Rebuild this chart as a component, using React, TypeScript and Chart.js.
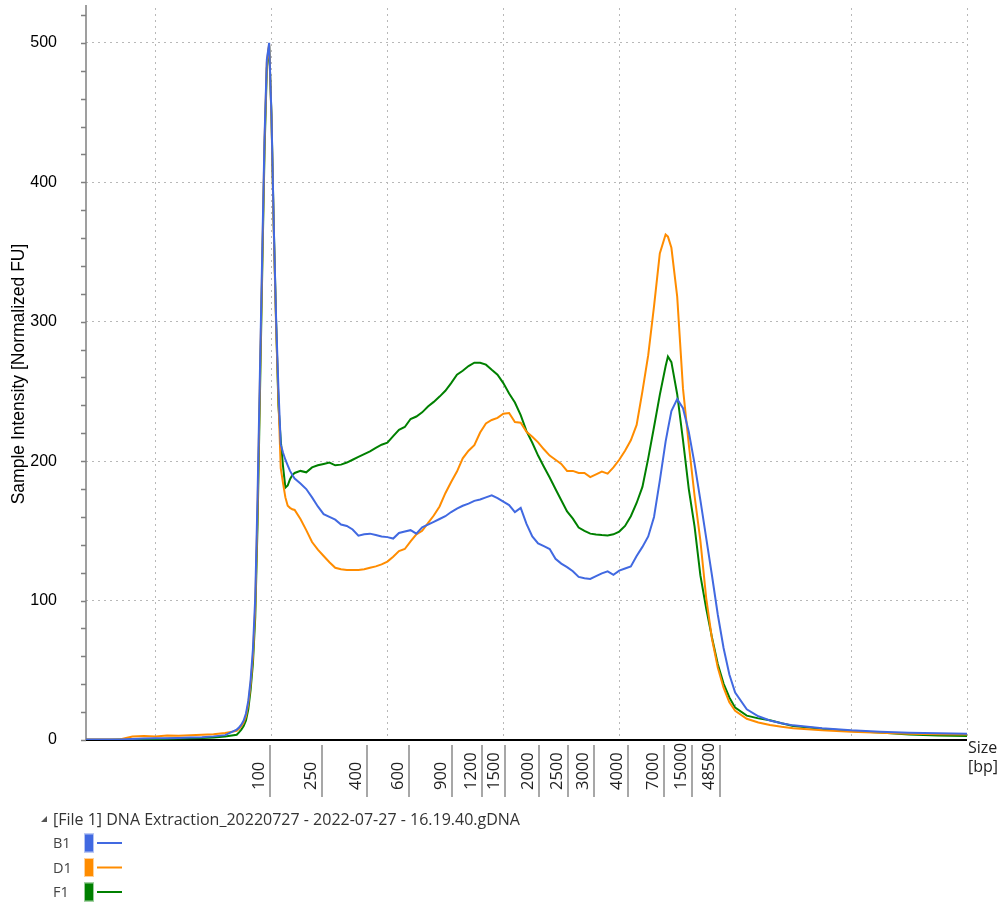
import React, { useEffect, useRef } from "react";
import { Chart, registerables } from "chart.js";

Chart.register(...registerables);

// Migration position (arbitrary run units; grid lines every 100)
const migration = [
  -60, -50, -40, -30, -20, -10, 0, 10, 20, 30, 40, 50, 60, 70,
  72, 74, 76, 78, 80, 82, 84, 86, 88, 90, 92, 94, 96, 98, 100, 102, 104, 106, 108, 110, 112, 114, 116, 118, 120,
  125, 130, 135, 140, 145, 150, 155, 160, 165, 170,
  175, 180, 185, 190, 195, 200, 205, 210, 215, 220,
  225, 230, 235, 240, 245, 250, 255, 260, 265, 270,
  275, 280, 285, 290, 295, 300, 305, 310, 315, 320,
  325, 330, 335, 340, 345, 350, 355, 360, 365, 370,
  375, 380, 385, 390, 395, 400, 405, 410, 415, 420,
  425, 430, 435, 440, 442, 445, 450, 455, 460, 465,
  470, 475, 480, 485, 490, 495, 500,
  510, 520, 530, 540, 550, 575, 600, 625, 650, 675, 700,
];

const sampleB1 = [
  0.3, 0.3, 0.3, 0.4, 0.8, 1.0, 1.2, 1.3, 1.5, 1.8, 2.0, 2.6, 3.5, 7.5,
  9, 11, 14, 19, 28, 43, 65, 102, 175, 262, 348, 432, 488, 500, 448, 368, 302, 252, 212, 206, 201, 197, 193, 190, 187.5,
  184, 180, 174, 167.5, 162, 160, 158, 154.5, 153.5, 151,
  146.5, 147.5, 148, 147, 146, 145.5, 144.5, 148.5, 149.5, 150.5,
  148, 152.5, 154.5, 156.5, 158.5, 160.5, 163.5, 166, 168, 169.5,
  171.5, 172.5, 174, 175.5, 173.5, 171, 168.5, 163.5, 166.5, 155,
  146, 141, 139, 137, 130, 126.5, 124, 121, 117, 116,
  115.5, 117.5, 119.5, 121, 118.5, 121.5, 123, 124.5, 132, 138.5,
  146, 160, 186, 214, 223, 236, 244.5, 238, 221, 198,
  172, 145, 118, 90, 66, 47, 34,
  22, 17, 14, 12, 10.5, 8.5, 7, 6, 5.2, 4.8, 4.5,
];

const sampleD1 = [
  0.3, 0.3, 0.3, 0.5, 2.5, 2.8, 2.5, 3.2, 3.0, 3.4, 3.8, 4.2, 5.0, 6.5,
  8, 10, 12.5, 17, 26, 40, 60, 95, 165, 255, 342, 428, 486, 499, 446, 364, 296, 244, 195, 184, 174, 168, 166.5, 165.5, 165,
  158.5, 150.5, 142, 136.5, 132, 127.5, 123.5, 122.5, 122, 122,
  122, 122.5, 123.5, 124.5, 126, 128, 131.5, 135.5, 137, 142.5,
  147.5, 150, 155.5, 161, 167.5, 177, 185, 192.5, 202, 207.5,
  211.5, 220.5, 227, 229.5, 231, 234, 234.5, 228, 227.5, 221,
  217.5, 213.5, 208.5, 204, 201, 198, 193, 193, 191.5, 191.5,
  188.5, 190.5, 192.5, 191, 195.5, 201, 207.5, 215, 226, 250,
  276, 311, 349, 362.5, 361, 353, 318, 252, 212, 175,
  143, 102, 72.5, 52, 37.5, 27, 21,
  15.2, 12.5, 10.7, 9.5, 8.5, 7, 6, 5.2, 4.5, 4.2, 4,
];

const sampleF1 = [
  0.2, 0.2, 0.2, 0.3, 0.5, 0.8, 0.6, 0.9, 1.0, 1.2, 1.5, 1.8, 2.5, 3.8,
  5.5, 7.5, 10, 14, 22, 36, 55, 88, 155, 245, 335, 422, 482, 498, 448, 368, 300, 240, 215, 196, 181, 182.5, 187, 190, 191.5,
  193, 192, 195.5, 197, 198, 199, 197, 197.5, 199, 201,
  203, 205, 207, 209.5, 211.8, 213.2, 218, 222.5, 224.5, 230.2,
  232, 235, 239.2, 242.5, 246.3, 250.5, 256, 262, 264.8, 268.2,
  270.6, 270.6, 269.2, 265.5, 262, 256, 248.5, 242, 233, 221.5,
  213.2, 204, 196, 188.3, 180, 172, 164, 158.8, 152.4, 150,
  148, 147.4, 147, 146.7, 147.5, 149.5, 153.5, 160.5, 170, 181.5,
  202, 224.5, 247.5, 268, 275, 271, 248, 215, 180, 153,
  118, 94.5, 73.5, 54.5, 40.5, 30.5, 23.2,
  17.5, 15.5, 14.2, 12, 10, 8, 6.5, 5.3, 4, 3.2, 2.8,
];

const sampleNames = ["B1", "D1", "F1"];
const sampleColors = ["#4169e1", "#ff8c00", "#008000"];

const ladderSizes = ["100", "250", "400", "600", "900", "1200", "1500", "2000", "2500", "3000", "4000", "7000", "15000", "48500"];
const ladderMigration = [98.7, 143.3, 182.1, 218.9, 256.0, 281.8, 301.7, 331.0, 356.0, 378.4, 407.8, 438.8, 462.5, 486.9];

const gridMigration = [0, 100, 200, 300, 400, 500, 600, 700];
const intensityTicks = [0, 100, 200, 300, 400, 500];

const fileTitle = "[File 1] DNA Extraction_20220727 - 2022-07-27 - 16.19.40.gDNA";
const yTitle = "Sample Intensity [Normalized FU]";
const xUnitLines = ["Size", "[bp]"];

const UI_FONT = '"Open Sans", "Noto Sans", sans-serif';

const overlayPlugin = {
  id: "overlay",
  beforeDatasetsDraw(chart: any) {
    const { ctx, chartArea: a, scales } = chart;
    const y = scales.y;
    ctx.save();
    // y axis line + minor ticks
    ctx.strokeStyle = "#808080";
    ctx.lineWidth = 1.5;
    ctx.beginPath();
    ctx.moveTo(a.left, a.top - 3);
    ctx.lineTo(a.left, a.bottom);
    for (let v = 0; v <= 520; v += 20) {
      const py = Math.round(y.getPixelForValue(v)) + 0.5;
      ctx.moveTo(a.left - 5, py);
      ctx.lineTo(a.left, py);
    }
    ctx.stroke();
    // x axis line
    ctx.strokeStyle = "#000";
    ctx.lineWidth = 2;
    ctx.beginPath();
    ctx.moveTo(a.left, a.bottom);
    ctx.lineTo(a.right, a.bottom);
    ctx.stroke();
    ctx.restore();
  },
  afterDraw(chart: any) {
    const { ctx, chartArea: a, scales } = chart;
    const x = scales.x;
    ctx.save();
    // ladder size labels
    ctx.font = `16.5px ${UI_FONT}`;
    ctx.fillStyle = "#222";
    for (let i = 0; i < ladderSizes.length; i++) {
      const px = Math.round(x.getPixelForValue(ladderMigration[i]));
      ctx.strokeStyle = "#8a8a8a";
      ctx.lineWidth = 1.5;
      ctx.beginPath();
      ctx.moveTo(px, a.bottom + 5);
      ctx.lineTo(px, a.bottom + 57);
      ctx.stroke();
      ctx.save();
      ctx.translate(px - 6.5, a.bottom + 50);
      ctx.rotate(-Math.PI / 2);
      ctx.textAlign = "left";
      ctx.textBaseline = "alphabetic";
      ctx.fillText(ladderSizes[i], 0, 0);
      ctx.restore();
    }
    // axis unit
    ctx.font = `16px ${UI_FONT}`;
    ctx.fillStyle = "#222";
    ctx.textAlign = "left";
    ctx.fillText(xUnitLines[0], a.right + 1, a.bottom + 13);
    ctx.fillText(xUnitLines[1], a.right + 1, a.bottom + 32);

    // legend
    const lx = 41;
    const ly = a.bottom + 85;
    ctx.fillStyle = "#555";
    ctx.beginPath();
    ctx.moveTo(lx, ly - 3);
    ctx.lineTo(lx + 6, ly - 3);
    ctx.lineTo(lx + 6, ly - 9);
    ctx.closePath();
    ctx.fill();
    ctx.font = `16px ${UI_FONT}`;
    ctx.fillStyle = "#333";
    ctx.fillText(fileTitle, lx + 12, ly);
    for (let i = 0; i < sampleNames.length; i++) {
      const cy = a.bottom + 103 + i * 24.5;
      ctx.fillStyle = "#444";
      ctx.font = `14.5px ${UI_FONT}`;
      ctx.fillText(sampleNames[i], 53, cy + 5);
      ctx.fillStyle = sampleColors[i];
      ctx.fillRect(84, cy - 9.5, 10, 19);
      ctx.strokeStyle = "rgba(255,255,255,0.6)";
      ctx.lineWidth = 1;
      ctx.strokeRect(84.5, cy - 9, 9, 18);
      ctx.strokeStyle = sampleColors[i];
      ctx.lineWidth = 2;
      ctx.beginPath();
      ctx.moveTo(97, cy);
      ctx.lineTo(122, cy);
      ctx.stroke();
    }
    ctx.restore();
  },
};

export default function App() {
  const canvasRef = useRef<HTMLCanvasElement | null>(null);

  useEffect(() => {
    document.body.style.margin = "0";
    const canvas = canvasRef.current;
    if (!canvas) return;
    const series = [sampleB1, sampleD1, sampleF1];
    const chart = new Chart(canvas, {
      type: "line",
      data: {
        datasets: series.map((vals, i) => ({
          label: sampleNames[i],
          data: migration.map((m, j) => ({ x: m, y: vals[j] })),
          borderColor: sampleColors[i],
          backgroundColor: sampleColors[i],
          borderWidth: 2,
          pointRadius: 0,
          tension: 0,
          fill: false,
        })),
      },
      options: {
        responsive: false,
        animation: false,
        events: [],
        layout: { padding: { left: 0, right: 37, top: 8, bottom: 0 } },
        plugins: { legend: { display: false }, tooltip: { enabled: false } },
        scales: {
          x: {
            type: "linear",
            min: -60,
            max: 700,
            afterBuildTicks: (s: any) => {
              s.ticks = gridMigration.map((v) => ({ value: v }));
            },
            afterFit: (s: any) => {
              s.height = 165;
              s.paddingLeft = 0;
              s.paddingRight = 0;
            },
            ticks: { display: false },
            grid: { color: "#b8b8b8", lineWidth: 1, drawTicks: false },
            border: { display: false, dash: [2, 4] },
          },
          y: {
            type: "linear",
            min: 0,
            max: 525,
            afterBuildTicks: (s: any) => {
              s.ticks = intensityTicks.map((v) => ({ value: v }));
            },
            afterFit: (s: any) => {
              s.width = 86;
              s.paddingTop = 0;
              s.paddingBottom = 0;
            },
            ticks: {
              color: "#000",
              padding: 29,
              font: { family: "Liberation Sans", size: 16 },
            },
            grid: { color: "#b8b8b8", lineWidth: 1, drawTicks: false },
            border: { display: false, dash: [2, 4] },
            title: {
              display: true,
              text: yTitle,
              color: "#000",
              font: { family: "Liberation Sans", size: 17.5 },
              padding: { top: 9, bottom: 0 },
            },
          },
        },
      },
      plugins: [overlayPlugin],
    });
    return () => chart.destroy();
  }, []);

  return (
    <div style={{ width: 1004, height: 905, background: "#fff" }}>
      <canvas ref={canvasRef} width={1004} height={905} style={{ display: "block" }} />
    </div>
  );
}
